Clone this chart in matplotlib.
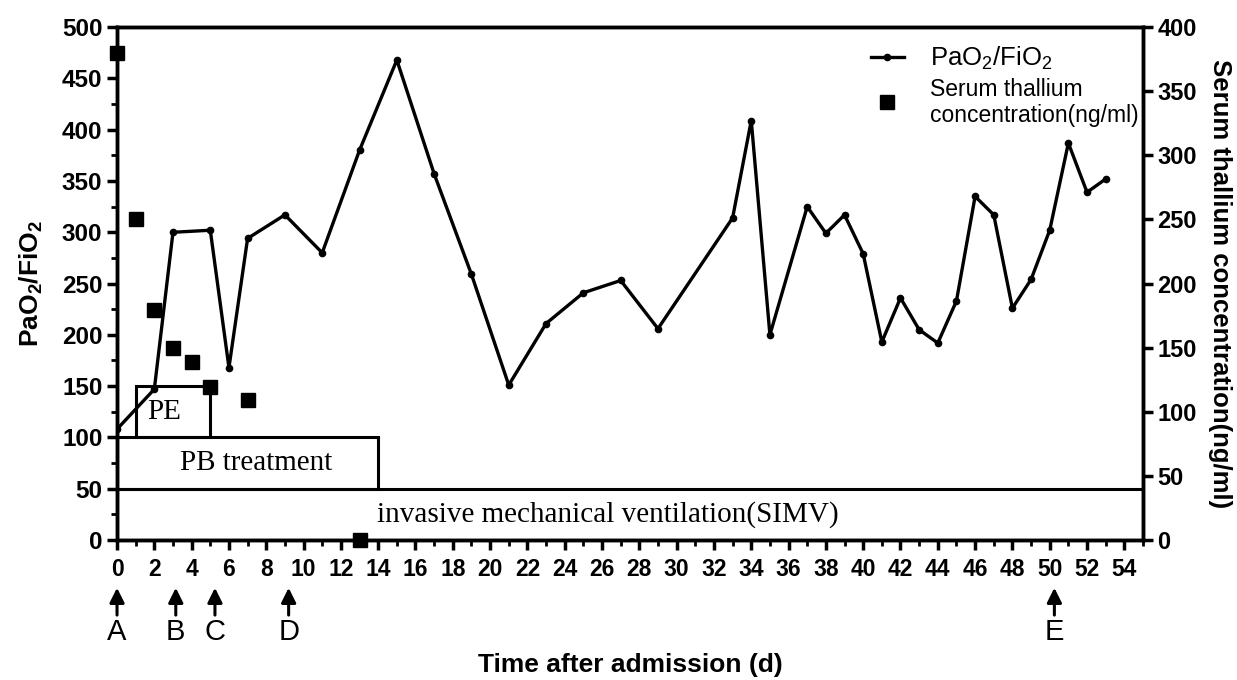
import matplotlib
matplotlib.use("Agg")
from matplotlib import pyplot as plt
from matplotlib.patches import Rectangle
from matplotlib.lines import Line2D
from matplotlib.ticker import MultipleLocator

plt.rcParams['font.family'] = ['Liberation Sans', 'DejaVu Sans']
plt.rcParams['mathtext.fontset'] = 'custom'
plt.rcParams['mathtext.rm'] = 'Liberation Sans'
plt.rcParams['mathtext.bf'] = 'Liberation Sans:bold'
plt.rcParams['mathtext.default'] = 'regular'

# =========================
# DANE
# =========================
dni = [0, 2, 3, 5, 6, 7, 9, 11, 13, 15, 17, 19, 21, 23, 25, 27, 29, 33, 34, 35,
       37, 38, 39, 40, 41, 42, 43, 44, 45, 46, 47, 48, 49, 50, 51, 52, 53]
pao2_fio2 = [108, 147, 300, 302, 168, 294, 317, 280, 380, 468, 357, 259, 151, 211, 241, 253, 206, 314, 409, 200,
             325, 299, 317, 279, 193, 236, 205, 192, 233, 335, 317, 226, 254, 302, 387, 339, 352]

dni_tal = [0, 1, 2, 3, 4, 5, 7, 13]
tal = [380, 250, 179, 150, 139, 119, 109, 0]

# okresy leczenia: (start, koniec, dol, gora, napis)
okresy_start = [1, 0, 0]
okresy_koniec = [5, 14, 55]
okresy_dol = [100, 50, 0]
okresy_gora = [150, 100, 50]
okresy_napis = ["PE", "PB treatment", "invasive mechanical ventilation(SIMV)"]
okresy_tekst_x = [2.5, 7.45, 26.3]

# strzalki pod osia
strzalki_x = [0, 3.15, 5.25, 9.2, 50.25]
strzalki_litery = ["A", "B", "C", "D", "E"]

x_ticks = list(range(0, 55, 2))

# =========================
# WYKRES
# =========================
fig = plt.figure(figsize=(12.37, 6.8), dpi=100)
ax = fig.add_axes([0.0946, 0.206, 0.8294, 0.754])
ax2 = ax.twinx()

for x0, x1, y0, y1, napis, tx in zip(okresy_start, okresy_koniec, okresy_dol, okresy_gora,
                                     okresy_napis, okresy_tekst_x):
    ax.add_patch(Rectangle((x0, y0), x1 - x0, y1 - y0, fill=False, lw=2.2, ec="black", zorder=1))
    ax.text(tx, (y0 + y1) / 2, napis, family=["Liberation Serif"], fontsize=21,
            ha="center", va="center", zorder=2)

ax.plot(dni, pao2_fio2, color="black", lw=2.4, marker="o", markersize=4.5, zorder=3)
ax2.plot(dni_tal, tal, linestyle="none", marker="s", markersize=9.5, color="black", clip_on=False)

ax.set_xlim(0, 55)
ax.set_ylim(0, 500)
ax2.set_ylim(0, 400)

ax.set_xticks(x_ticks)
ax.xaxis.set_minor_locator(MultipleLocator(1))
ax.yaxis.set_major_locator(MultipleLocator(50))
ax.yaxis.set_minor_locator(MultipleLocator(25))
ax2.yaxis.set_major_locator(MultipleLocator(50))

for a in (ax, ax2):
    for s in a.spines.values():
        s.set_linewidth(2.5)
ax.tick_params(which="major", length=7, width=2.5)
ax.tick_params(which="minor", length=4, width=2)
ax.tick_params(axis="x", labelsize=16.5, pad=6)
ax.tick_params(axis="y", labelsize=17.5)
ax2.tick_params(which="major", length=7, width=2.5, labelsize=17)
for lab in ax.get_xticklabels() + ax.get_yticklabels() + ax2.get_yticklabels():
    lab.set_fontweight("bold")

ax.set_ylabel(r"$\mathbf{PaO_2/FiO_2}$", fontsize=19, labelpad=12)
ax2.set_ylabel("Serum thallium concentration(ng/ml)", fontsize=18.5, fontweight="bold",
               rotation=270, labelpad=25)
ax.set_xlabel("Time after admission (d)", fontsize=19, fontweight="bold", labelpad=52)

# strzalki A-E
trans = ax.get_xaxis_transform()
for x, litera in zip(strzalki_x, strzalki_litery):
    ax.annotate("", xy=(x, -0.088), xytext=(x, -0.152), xycoords=trans, textcoords=trans,
                arrowprops=dict(arrowstyle="-|>", lw=2.2, color="black", mutation_scale=22),
                annotation_clip=False)
    ax.text(x, -0.18, litera, transform=trans, fontsize=21, ha="center", va="center")

# legenda
uchwyty = [Line2D([], [], color="black", lw=2.4, marker="o", markersize=4.5),
           Line2D([], [], color="black", linestyle="none", marker="s", markersize=9.5)]
leg = ax2.legend(uchwyty, [r"PaO$_2$/FiO$_2$", "Serum thallium\nconcentration(ng/ml)"],
                 loc="upper right", bbox_to_anchor=(1.008, 0.99), frameon=False,
                 fontsize=18.5, handlelength=1.3, handletextpad=1.0, labelspacing=0.2,
                 borderaxespad=0.1)
leg.get_texts()[1].set_fontsize(16.5)

plt.savefig("out.png", dpi=100)
plt.close()
